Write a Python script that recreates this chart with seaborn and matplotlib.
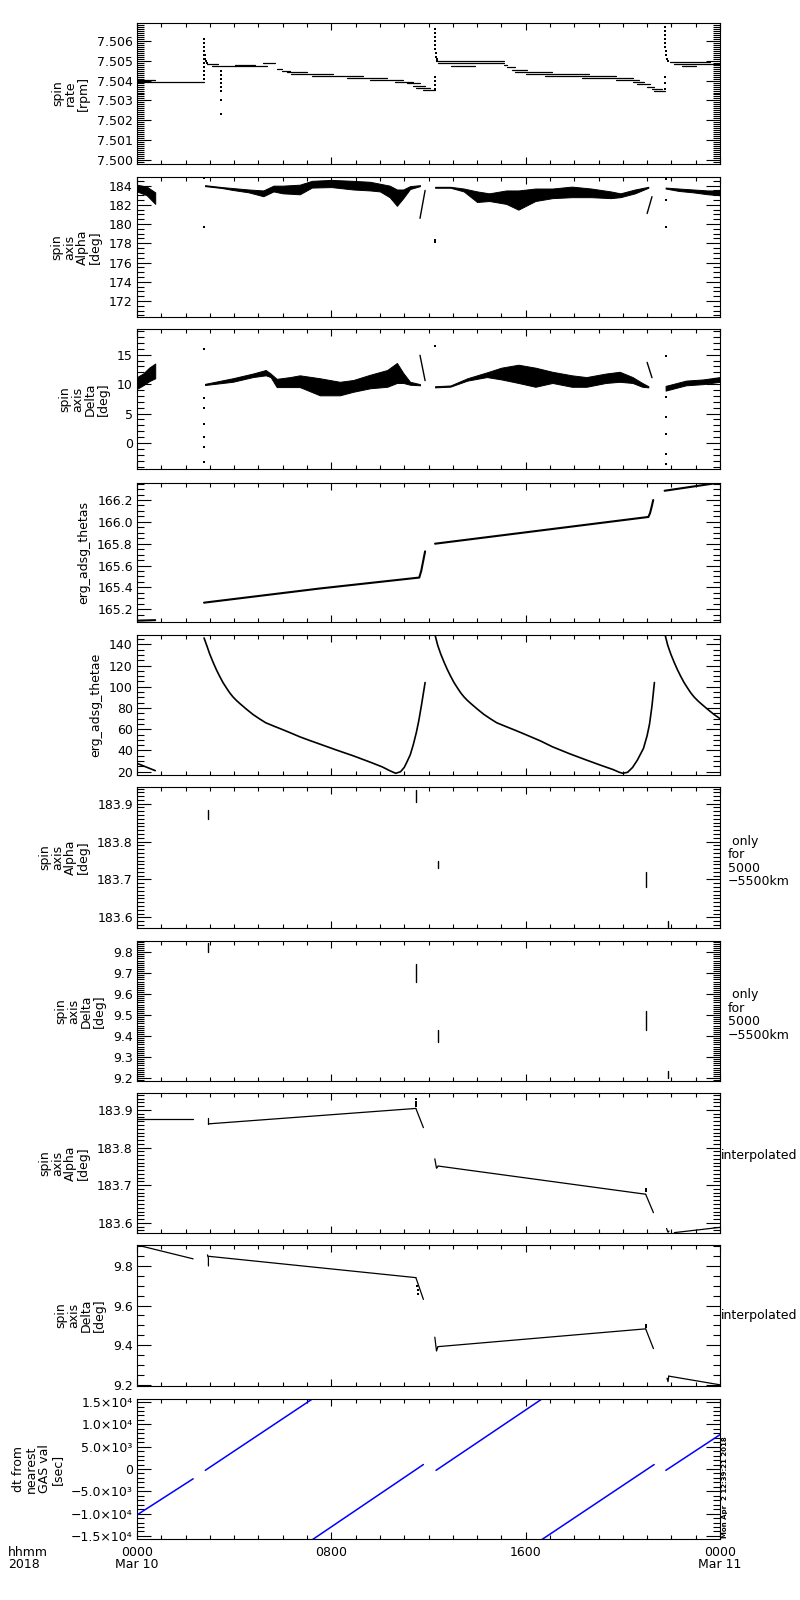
import numpy as np
import pandas as pd
import matplotlib
matplotlib.use("Agg")
import matplotlib.pyplot as plt
import seaborn as sns
from matplotlib.ticker import FixedLocator, FixedFormatter, MultipleLocator

sns.set_theme(style="ticks", rc={
    "axes.edgecolor": "black", "axes.linewidth": 0.8,
    "xtick.color": "black", "ytick.color": "black",
    "text.color": "black", "axes.labelcolor": "black",
    "xtick.direction": "in", "ytick.direction": "in",
})
plt.rcParams['font.family'] = ['DejaVu Sans']
plt.rcParams['font.size'] = 9

# ---------------- data (hours since 2018-03-10 00:00) ----------------
# Panel 1: spin rate step levels
rate_h0 = [0.00, 0.00, 2.90, 3.10, 4.04, 5.20, 5.75, 5.96, 6.16, 6.36, 7.19, 8.63, 9.60, 10.62, 11.10, 11.38,
           11.50, 11.79, 12.30, 12.40, 12.93, 15.10, 15.24, 15.45, 15.58, 16.00, 16.80, 18.30, 19.70, 20.40,
           20.60, 21.00, 21.20, 21.30, 21.95, 22.10, 22.42]
rate_h1 = [2.76, 0.75, 3.35, 5.35, 4.86, 5.69, 5.96, 6.30, 6.98, 8.08, 9.31, 10.28, 10.96, 11.38, 11.65, 11.86,
           12.06, 12.27, 15.10, 15.10, 13.90, 15.24, 15.58, 16.07, 17.09, 18.60, 19.70, 20.40, 20.66, 20.86,
           21.13, 21.30, 21.60, 21.72, 23.60, 24.00, 23.00]
rate_v = [7.50394, 7.50405, 7.50484, 7.50471, 7.50479, 7.50490, 7.50458, 7.50450, 7.50443, 7.50432, 7.50423,
          7.50413, 7.50405, 7.50394, 7.50386, 7.50374, 7.50363, 7.50353, 7.50500, 7.50490, 7.50471, 7.50479,
          7.50466, 7.50455, 7.50443, 7.50432, 7.50423, 7.50414, 7.50405, 7.50394, 7.50382, 7.50370, 7.50358,
          7.50347, 7.50492, 7.50482, 7.50471]
rate_dot_h = [2.76, 2.76, 2.76, 2.76, 2.76, 2.76, 2.76, 2.76, 2.76, 2.76, 2.76, 2.78, 2.80, 2.83, 2.87,
              3.46, 3.46, 3.46, 3.46, 3.46, 3.46, 3.46, 3.46,
              12.27, 12.27, 12.27, 12.27, 12.27, 12.28, 12.29, 12.30, 12.33, 12.36, 12.27, 12.27, 12.27, 12.27,
              21.74, 21.74, 21.74, 21.74, 21.74, 21.75, 21.76, 21.78, 21.82, 21.86, 21.73, 21.73, 21.73]
rate_dot_v = [7.5061, 7.5059, 7.5057, 7.5055, 7.5053, 7.5051, 7.5049, 7.5047, 7.5045, 7.5043, 7.5041,
              7.5053, 7.5051, 7.5050, 7.5049,
              7.5045, 7.5043, 7.5041, 7.5039, 7.5037, 7.5035, 7.5030, 7.5023,
              7.5066, 7.5064, 7.5062, 7.5060, 7.5058, 7.5056, 7.5054, 7.5052, 7.5051, 7.5050, 7.5042, 7.5040, 7.5038, 7.5036,
              7.5067, 7.5065, 7.5063, 7.5061, 7.5059, 7.5057, 7.5055, 7.5053, 7.5051, 7.5050, 7.5042, 7.5039, 7.5036]

# Panel 2: spin axis alpha (bands of scattered points: lower/upper envelopes)
alpha_a_h = [0.0, 0.4, 0.75]
alpha_a_lo = [183.4, 183.0, 182.1]
alpha_a_hi = [184.1, 183.9, 183.3]
alpha_b_h = [2.80, 3.50, 3.94, 4.60, 5.20, 5.62, 6.00, 6.70, 7.20, 8.00, 8.90, 9.60, 10.00, 10.40, 10.70, 10.96, 11.24, 11.65]
alpha_b_lo = [183.95, 183.75, 183.55, 183.30, 182.90, 183.40, 183.20, 183.10, 183.80, 183.85, 183.60, 183.50, 183.40, 182.80, 181.90, 182.70, 183.65, 183.95]
alpha_b_hi = [184.05, 183.85, 183.75, 183.60, 183.50, 184.00, 184.00, 184.10, 184.50, 184.60, 184.50, 184.40, 184.20, 184.00, 183.60, 183.60, 183.95, 184.05]
alpha_c_h = [12.27, 12.90, 13.45, 14.00, 14.50, 15.20, 15.70, 16.40, 17.10, 17.90, 18.70, 19.50, 19.90, 20.50, 21.05]
alpha_c_lo = [183.78, 183.78, 183.40, 182.30, 182.40, 182.10, 181.50, 182.40, 182.70, 182.80, 182.80, 182.70, 182.80, 183.20, 183.78]
alpha_c_hi = [183.88, 183.88, 183.70, 183.40, 183.20, 183.50, 183.50, 183.70, 183.70, 183.90, 183.70, 183.40, 183.20, 183.60, 183.88]
alpha_d_h = [21.76, 22.30, 22.90, 23.50, 24.00]
alpha_d_lo = [183.70, 183.45, 183.30, 183.10, 183.00]
alpha_d_hi = [183.80, 183.70, 183.60, 183.50, 183.50]
alpha_steep1_h = [11.65, 11.86]
alpha_steep1_v = [180.6, 183.5]
alpha_steep2_h = [21.00, 21.20]
alpha_steep2_v = [181.1, 182.85]
alpha_dot_h = [2.76, 2.76, 12.27, 12.27, 21.76, 21.76, 21.76]
alpha_dot_v = [184.8, 179.7, 178.3, 178.1, 184.7, 182.5, 179.7]

# Panel 3: spin axis delta
delta_a_h = [0.0, 0.25, 0.5, 0.75]
delta_a_lo = [9.2, 9.8, 10.5, 11.0]
delta_a_hi = [11.2, 11.8, 12.8, 13.5]
delta_b_h = [2.80, 3.94, 4.77, 5.30, 5.50, 5.75, 6.30, 6.70, 7.53, 8.35, 8.90, 9.60, 10.30, 10.70, 10.96, 11.24, 11.65]
delta_b_lo = [9.85, 10.40, 11.20, 11.50, 11.20, 9.50, 9.50, 9.50, 8.10, 8.10, 8.70, 9.30, 9.55, 10.20, 10.20, 9.90, 9.80]
delta_b_hi = [10.05, 11.00, 11.80, 12.40, 11.80, 10.90, 11.20, 11.50, 11.00, 10.40, 10.70, 11.60, 12.40, 13.60, 11.90, 10.40, 10.00]
delta_c_h = [12.27, 12.90, 13.60, 14.40, 15.00, 15.70, 16.40, 17.10, 17.90, 18.50, 19.30, 19.87, 20.40, 20.80, 21.05]
delta_c_lo = [9.45, 9.57, 10.60, 11.20, 10.80, 10.20, 9.55, 10.20, 9.55, 9.55, 10.20, 10.40, 10.20, 9.55, 9.45]
delta_c_hi = [9.65, 9.77, 11.00, 12.00, 12.80, 13.30, 12.80, 12.10, 11.50, 11.20, 11.80, 12.10, 11.20, 10.20, 9.65]
delta_d_h = [21.76, 22.60, 23.30, 24.00]
delta_d_lo = [8.9, 9.8, 10.0, 10.4]
delta_d_hi = [9.7, 10.6, 10.8, 11.2]
delta_steep1_h = [11.65, 11.86]
delta_steep1_v = [14.9, 10.6]
delta_steep2_h = [21.00, 21.20]
delta_steep2_v = [13.7, 11.1]
delta_dot_h = [2.76, 2.76, 2.76, 2.76, 2.76, 2.76, 2.76, 12.27, 21.76, 21.76, 21.76, 21.76, 21.76, 21.76]
delta_dot_v = [15.9, 7.6, 5.9, 3.3, 1.0, -0.7, -3.2, 16.4, 14.7, 7.8, 4.4, 1.6, -1.8, -3.5]

# Panel 4: erg_adsg_thetas
thetas_segs_h = [[0.0, 0.75], [2.76, 7.53, 11.62, 11.70, 11.78, 11.86], [12.27, 21.05, 21.12, 21.20, 21.25], [21.72, 24.0]]
thetas_segs_v = [[165.095, 165.10], [165.26, 165.39, 165.49, 165.55, 165.64, 165.73],
                 [165.80, 166.045, 166.08, 166.15, 166.20], [166.285, 166.36]]

# Panel 5: erg_adsg_thetae
thetae_segs_h = [[0.0, 0.75],
                 [2.76, 2.87, 3.00, 3.14, 3.27, 3.40, 3.54, 3.68, 3.81, 3.95, 4.09, 4.23, 4.50, 4.77, 5.03,
                  5.30, 5.65, 6.00, 6.35, 6.70, 7.10, 7.53, 8.20, 8.90, 9.60, 10.10, 10.40, 10.65, 10.85,
                  11.00, 11.10, 11.25, 11.38, 11.50, 11.60, 11.72, 11.86],
                 [12.27, 12.38, 12.51, 12.65, 12.78, 12.91, 13.05, 13.19, 13.32, 13.46, 13.60, 13.74, 14.01,
                  14.28, 14.54, 14.81, 15.16, 15.51, 15.86, 16.21, 16.61, 17.10, 17.80, 18.50, 19.10, 19.60,
                  19.85, 20.00, 20.20, 20.40, 20.60, 20.85, 21.00, 21.10, 21.20, 21.30],
                 [21.74, 21.85, 21.98, 22.12, 22.25, 22.38, 22.52, 22.66, 22.79, 22.93, 23.07, 23.21, 23.48,
                  23.75, 24.00]]
thetae_segs_v = [[27.9, 21.0],
                 [146.0, 139.0, 130.5, 122.7, 116.0, 110.0, 104.0, 99.0, 94.5, 90.5, 87.2, 84.3, 79.0, 74.0,
                  70.0, 66.1, 62.8, 59.6, 56.3, 52.9, 49.5, 46.0, 40.5, 35.0, 29.0, 24.5, 21.0, 18.5, 20.0,
                  24.0, 28.6, 36.0, 46.0, 57.0, 68.0, 84.0, 104.0],
                 [148.8, 139.0, 130.5, 122.7, 116.0, 110.0, 104.0, 99.0, 94.5, 90.5, 87.2, 84.3, 79.0,
                  74.0, 70.0, 66.1, 62.8, 59.6, 56.3, 52.9, 49.0, 43.5, 37.0, 31.0, 26.0, 22.0,
                  19.5, 18.5, 19.5, 24.0, 31.0, 42.0, 54.0, 65.0, 82.0, 104.0],
                 [148.8, 139.0, 130.5, 122.7, 116.0, 110.0, 104.0, 99.0, 94.5, 90.5, 87.2, 84.3, 79.0,
                  74.0, 70.0]]

# Panel 6 / 7: values only for 5000-5500 km
only_a_h = [2.94, 11.48, 12.39, 20.94, 21.84]
only_a_top = [183.884, 183.936, 183.750, 183.720, 183.590]
only_a_bot = [183.860, 183.905, 183.730, 183.680, 183.575]
only_d_h = [2.94, 11.48, 12.39, 20.94, 21.85]
only_d_top = [9.844, 9.742, 9.430, 9.520, 9.236]
only_d_bot = [9.800, 9.660, 9.374, 9.430, 9.200]

# Panel 8: interpolated alpha
ia_segs_h = [[0.0, 2.31], [2.94, 2.94], [2.94, 11.48], [11.48, 11.79], [12.26, 12.33, 12.39], [12.39, 20.94],
             [20.94, 21.26], [21.80, 21.86, 21.90], [22.12, 24.0]]
ia_segs_v = [[183.875, 183.875], [183.878, 183.862], [183.863, 183.904], [183.904, 183.853],
             [183.770, 183.745, 183.750], [183.751, 183.676], [183.676, 183.627],
             [183.585, 183.575, 183.578], [183.574, 183.588]]
ia_dot_h = [11.48, 11.48, 11.48, 11.48, 20.94, 20.94]
ia_dot_v = [183.930, 183.920, 183.915, 183.910, 183.685, 183.690]

# Panel 9: interpolated delta
id_segs_h = [[0.0, 2.31], [2.90, 2.94, 2.94], [2.94, 11.48], [11.48, 11.79], [12.26, 12.33, 12.39], [12.39, 20.94],
             [20.94, 21.26], [21.82, 21.86, 21.89], [21.89, 24.0]]
id_segs_v = [[9.906, 9.836], [9.856, 9.840, 9.800], [9.849, 9.741], [9.741, 9.631],
             [9.440, 9.370, 9.392], [9.392, 9.482], [9.482, 9.382],
             [9.232, 9.215, 9.243], [9.243, 9.199]]
id_dot_h = [11.52, 11.55, 11.58, 20.94, 20.94]
id_dot_v = [9.700, 9.680, 9.660, 9.500, 9.490]

# Panel 10: dt from nearest GAS value [s]
dt_segs_h = [[0.0, 2.31], [2.81, 7.30], [7.18, 11.79], [12.31, 16.75], [16.62, 21.29], [21.77, 24.0]]
dt_segs_v = [[-10300, -2200], [-300, 16000], [-16000, 1000], [-300, 16000], [-16000, 1000], [-300, 7700]]

# ---------------- axis settings ----------------
ylabels = ["spin\nrate\n[rpm]", "spin\naxis\nAlpha\n[deg]", "spin\naxis\nDelta\n[deg]",
           "erg_adsg_thetas", "erg_adsg_thetae", "spin\naxis\nAlpha\n[deg]", "spin\naxis\nDelta\n[deg]",
           "spin\naxis\nAlpha\n[deg]", "spin\naxis\nDelta\n[deg]", "dt from\nnearest\nGAS val\n[sec]"]
ylims = [(7.49981, 7.50689), (170.33, 184.9), (-4.42, 19.37), (165.083, 166.356), (16.9, 148.8),
         (183.572, 183.944), (9.186, 9.853), (183.573, 183.945), (9.193, 9.906), (-15700, 15700)]
yticks = [[7.500, 7.501, 7.502, 7.503, 7.504, 7.505, 7.506], [172, 174, 176, 178, 180, 182, 184],
          [0, 5, 10, 15], [165.2, 165.4, 165.6, 165.8, 166.0, 166.2], [20, 40, 60, 80, 100, 120, 140],
          [183.6, 183.7, 183.8, 183.9], [9.2, 9.3, 9.4, 9.5, 9.6, 9.7, 9.8], [183.6, 183.7, 183.8, 183.9],
          [9.2, 9.4, 9.6, 9.8], [-15000, -10000, -5000, 0, 5000, 10000, 15000]]
yticklabels = [["7.500", "7.501", "7.502", "7.503", "7.504", "7.505", "7.506"],
               ["172", "174", "176", "178", "180", "182", "184"], ["0", "5", "10", "15"],
               ["165.2", "165.4", "165.6", "165.8", "166.0", "166.2"],
               ["20", "40", "60", "80", "100", "120", "140"], ["183.6", "183.7", "183.8", "183.9"],
               ["9.2", "9.3", "9.4", "9.5", "9.6", "9.7", "9.8"], ["183.6", "183.7", "183.8", "183.9"],
               ["9.2", "9.4", "9.6", "9.8"],
               ["\u22121.5\u00d710\u2074", "\u22121.0\u00d710\u2074", "\u22125.0\u00d710\u00b3", "0",
                "5.0\u00d710\u00b3", "1.0\u00d710\u2074", "1.5\u00d710\u2074"]]
yminor = [0.0001, 0.5, 1, 0.05, 5, 0.01, 0.01, 0.01, 0.05, 1000]
right_notes = [None, None, None, None, None, " only\nfor\n5000\n\u22125500km", " only\nfor\n5000\n\u22125500km",
               "interpolated", "interpolated", None]
xtick_pos = [0, 8, 16, 24]
xtick_lab = ["0000\nMar 10", "0800", "1600", "0000\nMar 11"]

tops = [23, 177, 329, 483, 635, 787, 941, 1093, 1245, 1399]
bots = [164, 317, 469, 622, 775, 928, 1081, 1233, 1386, 1539]

W, H = 800, 1600
fig = plt.figure(figsize=(8, 16), dpi=100)
axes = []
for t, b in zip(tops, bots):
    ax = fig.add_axes([137 / W, 1 - b / H, 583 / W, (b - t) / H])
    axes.append(ax)


def draw_lines(ax, hs_list, vs_list, color="black", lw=0.8, ls="-"):
    rows = []
    for k, (hs, vs) in enumerate(zip(hs_list, vs_list)):
        for h, v in zip(hs, vs):
            rows.append((k, h, v))
    df = pd.DataFrame(rows, columns=["seg", "h", "v"])
    sns.lineplot(data=df, x="h", y="v", units="seg", estimator=None, sort=False,
                 color=color, lw=lw, ls=ls, ax=ax, legend=False)


def draw_dots(ax, hs, vs, s=2.5):
    sns.scatterplot(x=hs, y=vs, s=s, color="black", marker="s", linewidth=0, ax=ax, legend=False)


def draw_band(ax, hs, lo, hi):
    ax.fill_between(hs, lo, hi, color="black", lw=0.7)


# Panel 1
draw_lines(axes[0], [[a, b] for a, b in zip(rate_h0, rate_h1)], [[v, v] for v in rate_v], lw=0.9)
draw_dots(axes[0], rate_dot_h, rate_dot_v, s=1.5)

# Panel 2
for hh, lo, hi in [(alpha_a_h, alpha_a_lo, alpha_a_hi), (alpha_b_h, alpha_b_lo, alpha_b_hi),
                   (alpha_c_h, alpha_c_lo, alpha_c_hi), (alpha_d_h, alpha_d_lo, alpha_d_hi)]:
    draw_band(axes[1], hh, lo, hi)
draw_lines(axes[1], [alpha_steep1_h, alpha_steep2_h], [alpha_steep1_v, alpha_steep2_v], lw=1.0)
draw_dots(axes[1], alpha_dot_h, alpha_dot_v)

# Panel 3
for hh, lo, hi in [(delta_a_h, delta_a_lo, delta_a_hi), (delta_b_h, delta_b_lo, delta_b_hi),
                   (delta_c_h, delta_c_lo, delta_c_hi), (delta_d_h, delta_d_lo, delta_d_hi)]:
    draw_band(axes[2], hh, lo, hi)
draw_lines(axes[2], [delta_steep1_h, delta_steep2_h], [delta_steep1_v, delta_steep2_v], lw=1.0)
draw_dots(axes[2], delta_dot_h, delta_dot_v)

# Panel 4, 5
draw_lines(axes[3], thetas_segs_h, thetas_segs_v, lw=1.5)
draw_lines(axes[4], thetae_segs_h, thetae_segs_v, lw=1.2)

# Panel 6, 7
draw_lines(axes[5], [[h, h] for h in only_a_h], [[a, b] for a, b in zip(only_a_top, only_a_bot)], lw=1.0)
draw_lines(axes[6], [[h, h] for h in only_d_h], [[a, b] for a, b in zip(only_d_top, only_d_bot)], lw=1.0)

# Panel 8, 9
draw_lines(axes[7], ia_segs_h, ia_segs_v, lw=0.9)
draw_dots(axes[7], ia_dot_h, ia_dot_v, s=1.5)
draw_lines(axes[8], id_segs_h, id_segs_v, lw=0.9)
draw_dots(axes[8], id_dot_h, id_dot_v, s=1.5)

# Panel 10
draw_lines(axes[9], dt_segs_h, dt_segs_v, color="#0000ff", lw=1.1)

for i, ax in enumerate(axes):
    ax.set_xlim(0, 24)
    ax.set_ylim(*ylims[i])
    ax.xaxis.set_major_locator(FixedLocator(xtick_pos))
    ax.xaxis.set_minor_locator(MultipleLocator(1))
    ax.yaxis.set_major_locator(FixedLocator(yticks[i]))
    ax.yaxis.set_major_formatter(FixedFormatter(yticklabels[i]))
    ax.yaxis.set_minor_locator(MultipleLocator(yminor[i]))
    ax.tick_params(which="both", direction="in", top=True, right=True, width=0.8,
                   labelsize=9, colors="black")
    ax.tick_params(axis="x", which="major", length=5)
    ax.tick_params(axis="x", which="minor", length=3)
    ax.tick_params(axis="y", which="major", length=10, pad=3)
    ax.tick_params(axis="y", which="minor", length=5)
    ax.set_xlabel("")
    ax.set_ylabel(ylabels[i], fontsize=9, linespacing=1.0, multialignment="center", labelpad=5)
    for sp in ax.spines.values():
        sp.set_visible(True)
        sp.set_linewidth(0.8)
        sp.set_color("black")
    if i < len(axes) - 1:
        ax.set_xticklabels([])
    else:
        ax.set_xticklabels(xtick_lab)
        ax.tick_params(axis="x", which="major", pad=5)
        for lab in ax.get_xticklabels():
            lab.set_linespacing(0.95)
    if right_notes[i] is not None:
        if right_notes[i] == "interpolated":
            ax.text(1.002, 0.55 if i == 7 else 0.5, right_notes[i], transform=ax.transAxes,
                    ha="left", va="center", fontsize=9)
        else:
            ax.text(1.013, 0.47, right_notes[i], transform=ax.transAxes, ha="left", va="center",
                    fontsize=9, linespacing=1.05)

fig.text(8 / W, 1 - 1546 / H, "hhmm\n2018", ha="left", va="top", fontsize=9, linespacing=0.95)
fig.text(725 / W, 1 - 1538 / H, "Mon Apr  2 12:39:21 2018", rotation=90, ha="center", va="bottom",
         fontsize=5, fontweight="bold")

fig.savefig("out.png", dpi=100, facecolor="white")
